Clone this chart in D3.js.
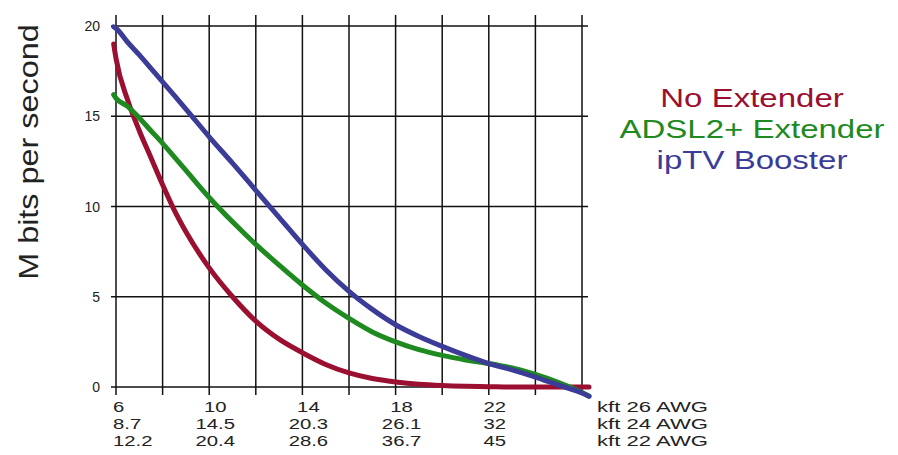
<!DOCTYPE html>
<html>
<head>
<meta charset="utf-8">
<script src="https://cdn.jsdelivr.net/npm/d3@7"></script>
<style>
  body { margin: 0; background: #fff; }
  text { font-family: "Liberation Sans", Arial, sans-serif; }
</style>
</head>
<body>
<div id="container"></div>
<script>
// distance in kft (26 AWG) for each reading
let kft = [5.9, 6, 6.5, 7, 7.5, 8, 8.5, 9, 10, 11, 12, 13, 14, 15, 16, 17, 18, 19, 20, 21, 22, 23, 24, 25, 26, 26.3]

let noExtender = [19.0, 18.2, 15.9, 14.2, 12.7, 11.2, 9.8, 8.6, 6.6, 5.0, 3.65, 2.65, 1.9, 1.25, 0.78, 0.47, 0.28, 0.15, 0.08, 0.04, 0.02, 0, 0, 0, 0, 0]
let adslExtender = [16.2, 16.0, 15.55, 14.9, 14.2, 13.5, 12.75, 12.0, 10.5, 9.15, 7.9, 6.75, 5.65, 4.65, 3.8, 3.05, 2.5, 2.07, 1.75, 1.5, 1.3, 1.05, 0.7, 0.25, -0.3, -0.5]
let iptvBooster = [19.95, 19.87, 19.1, 18.4, 17.65, 16.9, 16.15, 15.4, 13.86, 12.4, 10.9, 9.4, 7.9, 6.5, 5.3, 4.3, 3.45, 2.8, 2.25, 1.75, 1.3, 0.95, 0.55, 0.1, -0.33, -0.52]

let yTicks = [0, 5, 10, 15, 20]
let xGrid = [6, 8, 10, 12, 14, 16, 18, 20, 22, 24, 26]
let labelPos = [6, 10, 14, 18, 22]
let awg26 = ['6', '10', '14', '18', '22']
let awg24 = ['8.7', '14.5', '20.3', '26.1', '32']
let awg22 = ['12.2', '20.4', '28.6', '36.7', '45']
let rowUnits = ['kft 26 AWG', 'kft 24 AWG', 'kft 22 AWG']

let seriesNames = ['No Extender', 'ADSL2+ Extender', 'ipTV Booster']
let seriesColors = ['#9b0f30', '#1f8a1f', '#3b3b98']

let svgWidth = 898;
let svgHeight = 455;

let x = d3.scaleLinear()
          .domain([6, 26])
          .range([116, 582])
let y = d3.scaleLinear()
          .domain([0, 20])
          .range([387, 26])

let svg = d3.select('#container')
            .append('svg')
            .attr('width', svgWidth)
            .attr('height', svgHeight)

// grid
svg.selectAll('line.h')
   .data(yTicks)
   .enter()
   .append('line')
   .attr('x1', x(6) - 5)
   .attr('x2', x(26) + 6)
   .attr('y1', d => y(d))
   .attr('y2', d => y(d))
   .attr('stroke', '#111')
   .attr('stroke-width', 1.5)

svg.selectAll('line.v')
   .data(xGrid)
   .enter()
   .append('line')
   .attr('x1', d => x(d))
   .attr('x2', d => x(d))
   .attr('y1', y(20) - 11)
   .attr('y2', y(0) + 8)
   .attr('stroke', '#111')
   .attr('stroke-width', 1.5)

svg.selectAll('text.ytick')
   .data(yTicks)
   .enter()
   .append('text')
   .attr('x', 100)
   .attr('y', d => y(d) + 5)
   .attr('text-anchor', 'end')
   .attr('font-size', 14)
   .attr('fill', '#222')
   .text(d => d)

// the source text is drawn wide, so stretch it a little
svg.append('text')
   .attr('transform', 'translate(38,152) rotate(-90) scale(1.2,1)')
   .attr('text-anchor', 'middle')
   .attr('font-size', 27)
   .attr('fill', '#222')
   .text('M bits per second')

// x labels, three rows for three wire gauges
let rows = [awg26, awg24, awg22]
rows.forEach((row, r) => {
  svg.selectAll('text.row' + r)
     .data(row)
     .enter()
     .append('text')
     .attr('transform', (d, i) => {
        let px = i == 0 ? x(labelPos[i]) - 3 : x(labelPos[i]) + 6
        return 'translate(' + px + ',' + (412 + r * 17) + ') scale(1.45,1)'
     })
     .attr('text-anchor', (d, i) => i == 0 ? 'start' : 'middle')
     .attr('font-size', 14)
     .attr('fill', '#222')
     .text(d => d)
  svg.append('text')
     .attr('transform', 'translate(597,' + (412 + r * 17) + ') scale(1.58,1)')
     .attr('font-size', 14)
     .attr('fill', '#222')
     .text(rowUnits[r])
})

// curves
let allSeries = [noExtender, adslExtender, iptvBooster]
let line = d3.line()
             .x((d, i) => x(kft[i]))
             .y(d => y(d))
             .curve(d3.curveMonotoneX)

svg.selectAll('path.curve')
   .data(allSeries)
   .enter()
   .append('path')
   .attr('d', d => line(d))
   .attr('fill', 'none')
   .attr('stroke', (d, i) => seriesColors[i])
   .attr('stroke-width', 5)
   .attr('stroke-linecap', 'round')

// legend
svg.selectAll('text.legend')
   .data(seriesNames)
   .enter()
   .append('text')
   .attr('transform', (d, i) => 'translate(752,' + (107 + i * 31) + ') scale(1.27,1)')
   .attr('text-anchor', 'middle')
   .attr('font-size', 26)
   .attr('fill', (d, i) => seriesColors[i])
   .text(d => d)
</script>
</body>
</html>
